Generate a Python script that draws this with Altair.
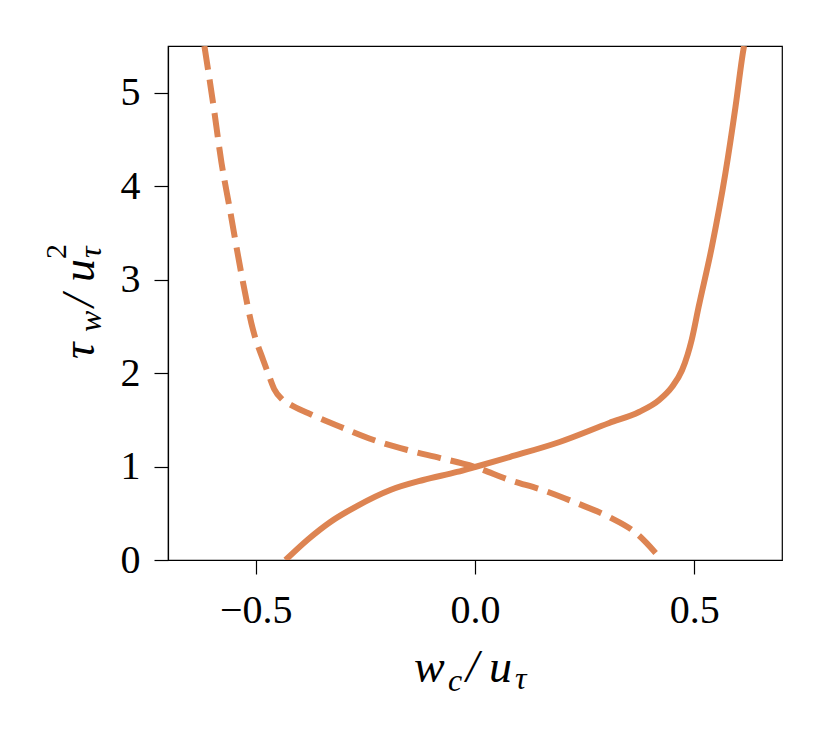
import altair as alt
import pandas as pd

solid_x = [-0.432, -0.381, -0.329, -0.268, -0.193, -0.118, -0.041, 0.000, 0.079, 0.193,
           0.306, 0.374, 0.420, 0.449, 0.472, 0.485, 0.494, 0.510, 0.540, 0.571, 0.594, 0.612, 0.6135]
solid_y = [0.000, 0.220, 0.410, 0.580, 0.749, 0.856, 0.942, 0.995, 1.102, 1.263,
           1.466, 1.584, 1.712, 1.851, 2.030, 2.200, 2.354, 2.710, 3.350, 4.140, 4.850, 5.460, 5.500]

dashed_x = [-0.617, -0.596, -0.578, -0.560, -0.533, -0.506, -0.483, -0.472, -0.458, -0.440, -0.420,
            -0.381, -0.306, -0.231, -0.154, -0.079, 0.000, 0.079, 0.154, 0.231, 0.306,
            0.367, 0.420, 0.426]
dashed_y = [5.500, 4.850, 4.250, 3.780, 3.070, 2.460, 2.140, 2.001, 1.830, 1.720, 1.660,
            1.573, 1.423, 1.284, 1.177, 1.091, 0.995, 0.856, 0.749, 0.610, 0.460,
            0.289, 0.032, 0.000]

x_ticks = [-0.5, 0.0, 0.5]
y_ticks = [0, 1, 2, 3, 4, 5]

# axis title pieces (text, kind)
x_title = [("w", "main"), ("c", "sub"), ("/", "main"), ("u", "main"), ("τ", "sub")]
y_title = [("τ", "main"), ("w", "sub"), ("/", "main"), ("u", "main"), ("τ", "sub"), ("2", "sup")]

rows = []
for i, (a, b) in enumerate(zip(solid_x, solid_y)):
    rows.append({"x": a, "y": b, "s": "solid", "i": i})
for i, (a, b) in enumerate(zip(dashed_x, dashed_y)):
    rows.append({"x": a, "y": b, "s": "dashed", "i": i})
df = pd.DataFrame(rows)

FONT = "Liberation Serif"
COLOR = "#dd8452"
OX, OY = 168, 46  # plot origin on page

xs = alt.X("x:Q", scale=alt.Scale(domain=[-0.7, 0.7], nice=False, zero=False),
           axis=alt.Axis(values=x_ticks, format=".1f", title=None, grid=False, labelPadding=16))
ys = alt.Y("y:Q", scale=alt.Scale(domain=[0, 5.5], nice=False),
           axis=alt.Axis(values=y_ticks, format="d", title=None, grid=False, labelPadding=14))

solid = alt.Chart(df).transform_filter(alt.datum.s == "solid").mark_line(
    color=COLOR, strokeWidth=6, interpolate="monotone", clip=True
).encode(x=xs, y=ys, order="i:Q")

dashed = alt.Chart(df).transform_filter(alt.datum.s == "dashed").mark_line(
    color=COLOR, strokeWidth=6, strokeDash=[24, 10], interpolate="monotone", clip=True
).encode(x=xs, y=ys, order="i:Q")

base = alt.Chart(pd.DataFrame({"d": [0]}))
SIZES = {"main": 46, "sub": 32, "sup": 30}

def piece(txt, kind, px, py, angle=0):
    return base.mark_text(
        text=txt, font=FONT, fontSize=SIZES[kind], fontStyle="normal" if txt == "2" else "italic",
        align="left", baseline="alphabetic", angle=angle, color="black"
    ).encode(x=alt.value(px - OX), y=alt.value(py - OY))

# title layout (page coords: start, baseline)
x_pos = [(414, 682), (448, 691), (466, 682), (489, 682), (515, 689)]
y_pos = [(94, 359), (101, 332), (94, 307), (94, 282), (101, 258), (66, 259)]

layers = [solid, dashed]
for (t, k), (px, py) in zip(x_title, x_pos):
    layers.append(piece(t, k, px, py))
for (t, k), (px, py) in zip(y_title, y_pos):
    layers.append(piece(t, k, px, py, angle=270))

chart = alt.layer(*layers).properties(
    width=614, height=514,
    autosize=alt.AutoSizeParams(type="none"),
    padding={"left": 160, "top": 38, "right": 39, "bottom": 175},
).configure(
    background="white"
).configure_view(
    stroke="black", strokeWidth=1.2
).configure_axis(
    domainColor="black", domainWidth=1.2, tickColor="black", tickWidth=1.2, tickSize=14,
    labelFont=FONT, labelFontSize=40, labelColor="black",
)

chart.save("out.html", embed_options={"renderer": "svg", "actions": False})
